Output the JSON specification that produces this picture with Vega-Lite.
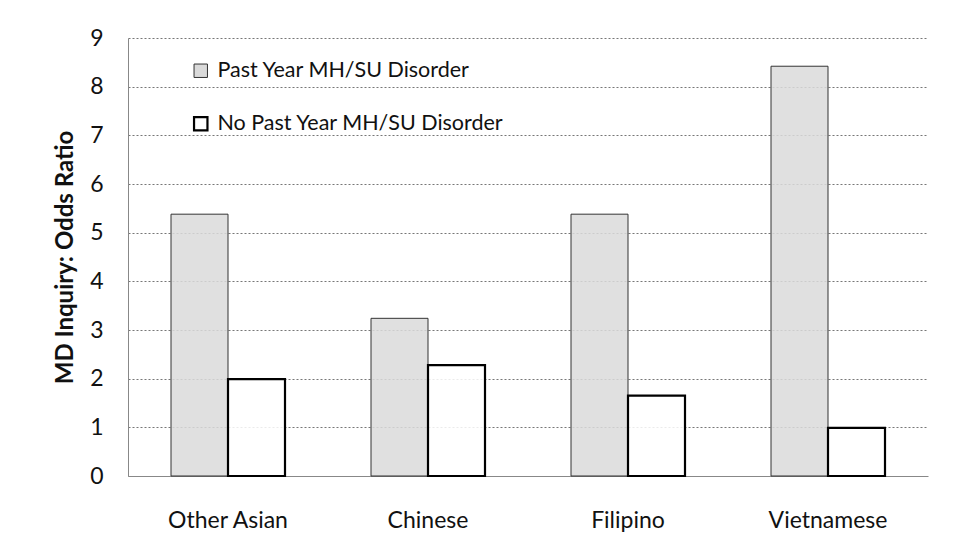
{
  "$schema": "https://vega.github.io/schema/vega-lite/v6.json",
  "width": 800,
  "height": 438,
  "autosize": {"type": "none"},
  "padding": {"left": 128, "top": 38, "right": 35, "bottom": 71},
  "background": "white",
  "config": {
    "font": "Lato",
    "view": {"stroke": null},
    "axis": {"labelFont": "Lato", "titleFont": "Lato", "labelColor": "#111", "titleColor": "#111"}
  },
  "data": {
    "values": [
      {"group": "Other Asian", "status": "Past Year MH/SU Disorder", "odds": 5.38},
      {"group": "Other Asian", "status": "No Past Year MH/SU Disorder", "odds": 1.99},
      {"group": "Chinese", "status": "Past Year MH/SU Disorder", "odds": 3.24},
      {"group": "Chinese", "status": "No Past Year MH/SU Disorder", "odds": 2.28},
      {"group": "Filipino", "status": "Past Year MH/SU Disorder", "odds": 5.38},
      {"group": "Filipino", "status": "No Past Year MH/SU Disorder", "odds": 1.65},
      {"group": "Vietnamese", "status": "Past Year MH/SU Disorder", "odds": 8.42},
      {"group": "Vietnamese", "status": "No Past Year MH/SU Disorder", "odds": 0.99}
    ]
  },
  "mark": {"type": "bar", "fillOpacity": 0.85},
  "encoding": {
    "x": {
      "field": "group", "type": "nominal", "sort": null,
      "scale": {"paddingInner": 0.43, "paddingOuter": 0.215},
      "axis": {"title": null, "labelAngle": 0, "labelFontSize": 23, "labelPadding": 33, "ticks": false, "domainColor": "#888", "grid": false}
    },
    "xOffset": {"field": "status", "type": "nominal", "sort": ["Past Year MH/SU Disorder", "No Past Year MH/SU Disorder"]},
    "y": {
      "field": "odds", "type": "quantitative",
      "scale": {"domain": [0, 9], "nice": false},
      "axis": {
        "title": "MD Inquiry: Odds Ratio", "titleFontSize": 24, "titleFontWeight": "bold", "titlePadding": 12,
        "values": [0,1,2,3,4,5,6,7,8,9], "labelFontSize": 23, "labelPadding": 25, "ticks": false,
        "domainColor": "#888", "gridColor": "#777", "gridDash": [2, 2], "gridWidth": 1
      }
    },
    "fill": {
      "field": "status", "type": "nominal",
      "scale": {"domain": ["Past Year MH/SU Disorder", "No Past Year MH/SU Disorder"], "range": ["#dadada", "#ffffff"]},
      "legend": {
        "title": null, "orient": "none", "legendX": 62, "legendY": 22,
        "symbolType": "square", "symbolSize": 180, "symbolStrokeWidth": 1.5, "symbolFillOpacity": 1,
        "labelFontSize": 21.5, "labelColor": "#111", "labelOffset": 6, "rowPadding": 30, "labelLimit": 400
      }
    },
    "stroke": {
      "field": "status", "type": "nominal",
      "scale": {"domain": ["Past Year MH/SU Disorder", "No Past Year MH/SU Disorder"], "range": ["#333333", "#000000"]}
    },
    "strokeWidth": {
      "field": "status", "type": "nominal",
      "scale": {"domain": ["Past Year MH/SU Disorder", "No Past Year MH/SU Disorder"], "range": [1, 2.2]},
      "legend": null
    }
  }
}
